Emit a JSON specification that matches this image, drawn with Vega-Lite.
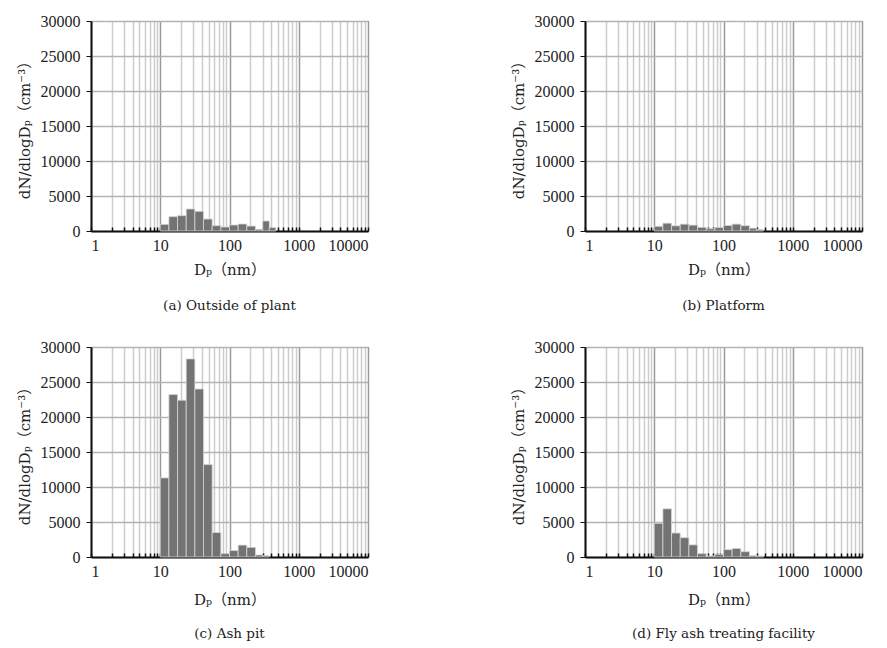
{
  "$schema": "https://vega.github.io/schema/vega-lite/v6.json",
  "padding": {"left": 16, "top": 12, "right": 5, "bottom": 3},
  "background": "white",
  "spacing": 25,
  "datasets": {
    "bins": [
      {"panel": "a", "lo": 10, "hi": 13.34, "value": 950},
      {"panel": "a", "lo": 13.34, "hi": 17.78, "value": 2050},
      {"panel": "a", "lo": 17.78, "hi": 23.71, "value": 2190},
      {"panel": "a", "lo": 23.71, "hi": 31.62, "value": 3140},
      {"panel": "a", "lo": 31.62, "hi": 42.17, "value": 2810},
      {"panel": "a", "lo": 42.17, "hi": 56.23, "value": 1710},
      {"panel": "a", "lo": 56.23, "hi": 74.99, "value": 760},
      {"panel": "a", "lo": 74.99, "hi": 100, "value": 570},
      {"panel": "a", "lo": 100, "hi": 133.4, "value": 860},
      {"panel": "a", "lo": 133.4, "hi": 177.8, "value": 1000},
      {"panel": "a", "lo": 177.8, "hi": 237.1, "value": 710},
      {"panel": "a", "lo": 237.1, "hi": 302, "value": 240},
      {"panel": "a", "lo": 302, "hi": 376, "value": 1430},
      {"panel": "a", "lo": 376, "hi": 468, "value": 480},
      {"panel": "b", "lo": 10, "hi": 13.34, "value": 670},
      {"panel": "b", "lo": 13.34, "hi": 17.78, "value": 1120},
      {"panel": "b", "lo": 17.78, "hi": 23.71, "value": 740},
      {"panel": "b", "lo": 23.71, "hi": 31.62, "value": 980},
      {"panel": "b", "lo": 31.62, "hi": 42.17, "value": 840},
      {"panel": "b", "lo": 42.17, "hi": 56.23, "value": 520},
      {"panel": "b", "lo": 56.23, "hi": 74.99, "value": 330},
      {"panel": "b", "lo": 74.99, "hi": 100, "value": 480},
      {"panel": "b", "lo": 100, "hi": 133.4, "value": 790},
      {"panel": "b", "lo": 133.4, "hi": 177.8, "value": 980},
      {"panel": "b", "lo": 177.8, "hi": 237.1, "value": 760},
      {"panel": "b", "lo": 237.1, "hi": 302, "value": 410},
      {"panel": "b", "lo": 302, "hi": 376, "value": 190},
      {"panel": "c", "lo": 10, "hi": 13.34, "value": 11300},
      {"panel": "c", "lo": 13.34, "hi": 17.78, "value": 23200},
      {"panel": "c", "lo": 17.78, "hi": 23.71, "value": 22400},
      {"panel": "c", "lo": 23.71, "hi": 31.62, "value": 28300},
      {"panel": "c", "lo": 31.62, "hi": 42.17, "value": 24000},
      {"panel": "c", "lo": 42.17, "hi": 56.23, "value": 13200},
      {"panel": "c", "lo": 56.23, "hi": 74.99, "value": 3500},
      {"panel": "c", "lo": 74.99, "hi": 100, "value": 480},
      {"panel": "c", "lo": 100, "hi": 133.4, "value": 920},
      {"panel": "c", "lo": 133.4, "hi": 177.8, "value": 1700},
      {"panel": "c", "lo": 177.8, "hi": 237.1, "value": 1380},
      {"panel": "c", "lo": 237.1, "hi": 302, "value": 290},
      {"panel": "c", "lo": 302, "hi": 376, "value": 190},
      {"panel": "d", "lo": 10, "hi": 13.34, "value": 4810},
      {"panel": "d", "lo": 13.34, "hi": 17.78, "value": 6880},
      {"panel": "d", "lo": 17.78, "hi": 23.71, "value": 3430},
      {"panel": "d", "lo": 23.71, "hi": 31.62, "value": 2760},
      {"panel": "d", "lo": 31.62, "hi": 42.17, "value": 1730},
      {"panel": "d", "lo": 42.17, "hi": 56.23, "value": 480},
      {"panel": "d", "lo": 56.23, "hi": 74.99, "value": 150},
      {"panel": "d", "lo": 74.99, "hi": 100, "value": 380},
      {"panel": "d", "lo": 100, "hi": 133.4, "value": 1050},
      {"panel": "d", "lo": 133.4, "hi": 177.8, "value": 1220},
      {"panel": "d", "lo": 177.8, "hi": 237.1, "value": 760},
      {"panel": "d", "lo": 237.1, "hi": 302, "value": 190},
      {"panel": "d", "lo": 302, "hi": 376, "value": 140}
    ]
  },
  "data": {"name": "bins"},
  "config": {
    "view": {"stroke": "#222222", "strokeWidth": 1},
    "font": "Liberation Serif",
    "axis": {
      "labelFont": "Liberation Serif",
      "labelFontSize": 16,
      "labelColor": "#222222",
      "titleFont": "DejaVu Serif, Noto Sans CJK JP",
      "titleFontSize": 15,
      "titleFontWeight": "normal",
      "titleColor": "#222222",
      "domainColor": "#111111",
      "domainWidth": 2,
      "tickColor": "#111111"
    },
    "title": {"font": "DejaVu Serif", "fontSize": 13.5, "fontWeight": "normal", "color": "#222222"}
  },
  "vconcat": [
    {
      "spacing": 140,
      "hconcat": [
        {
          "width": 277, "height": 210,
          "transform": [{"filter": "datum.panel == 'a'"}],
          "title": {"text": "(a) Outside of plant", "orient": "bottom", "offset": 22},
          "mark": {"type": "rect", "fill": "#737373", "stroke": "#d6d6d6", "strokeWidth": 0.8},
          "encoding": {
            "x": {"field": "lo", "type": "quantitative", "scale": {"type": "log", "domain": [1, 10000]},
              "axis": {"title": "Dₚ（nm）", "values": [1,2,3,4,5,6,7,8,9,10,20,30,40,50,60,70,80,90,100,200,300,400,500,600,700,800,900,1000,2000,3000,4000,5000,6000,7000,8000,9000,10000],
                "format": "d", "labelOverlap": false, "labelExpr": "indexof([1,10,100,1000,10000], datum.value) >= 0 ? datum.label : ''",
                "grid": true, "gridColor": {"condition": {"test": "indexof([1,10,100,1000,10000], datum.value) >= 0", "value": "#9a9a9a"}, "value": "#cccccc"}, "gridWidth": 1.5,
                "tickSize": -4, "tickWidth": 1.5, "labelPadding": 10, "titlePadding": 9}},
            "x2": {"field": "hi"},
            "y": {"field": "value", "type": "quantitative", "scale": {"domain": [0, 30000]},
              "axis": {"title": "dN/dlogDₚ（cm⁻³）", "values": [0,5000,10000,15000,20000,25000,30000], "format": "d", "grid": true, "gridColor": "#b3b3b3", "gridWidth": 1.5, "tickSize": 5, "labelPadding": 6, "titlePadding": 8}},
            "y2": {"datum": 0}
          }
        },
        {
          "width": 277, "height": 210,
          "transform": [{"filter": "datum.panel == 'b'"}],
          "title": {"text": "(b) Platform", "orient": "bottom", "offset": 22},
          "mark": {"type": "rect", "fill": "#737373", "stroke": "#d6d6d6", "strokeWidth": 0.8},
          "encoding": {
            "x": {"field": "lo", "type": "quantitative", "scale": {"type": "log", "domain": [1, 10000]},
              "axis": {"title": "Dₚ（nm）", "values": [1,2,3,4,5,6,7,8,9,10,20,30,40,50,60,70,80,90,100,200,300,400,500,600,700,800,900,1000,2000,3000,4000,5000,6000,7000,8000,9000,10000],
                "format": "d", "labelOverlap": false, "labelExpr": "indexof([1,10,100,1000,10000], datum.value) >= 0 ? datum.label : ''",
                "grid": true, "gridColor": {"condition": {"test": "indexof([1,10,100,1000,10000], datum.value) >= 0", "value": "#9a9a9a"}, "value": "#cccccc"}, "gridWidth": 1.5,
                "tickSize": -4, "tickWidth": 1.5, "labelPadding": 10, "titlePadding": 9}},
            "x2": {"field": "hi"},
            "y": {"field": "value", "type": "quantitative", "scale": {"domain": [0, 30000]},
              "axis": {"title": "dN/dlogDₚ（cm⁻³）", "values": [0,5000,10000,15000,20000,25000,30000], "format": "d", "grid": true, "gridColor": "#b3b3b3", "gridWidth": 1.5, "tickSize": 5, "labelPadding": 6, "titlePadding": 8}},
            "y2": {"datum": 0}
          }
        }
      ]
    },
    {
      "spacing": 140,
      "hconcat": [
        {
          "width": 277, "height": 210,
          "transform": [{"filter": "datum.panel == 'c'"}],
          "title": {"text": "(c) Ash pit", "orient": "bottom", "offset": 20},
          "mark": {"type": "rect", "fill": "#737373", "stroke": "#d6d6d6", "strokeWidth": 0.8},
          "encoding": {
            "x": {"field": "lo", "type": "quantitative", "scale": {"type": "log", "domain": [1, 10000]},
              "axis": {"title": "Dₚ（nm）", "values": [1,2,3,4,5,6,7,8,9,10,20,30,40,50,60,70,80,90,100,200,300,400,500,600,700,800,900,1000,2000,3000,4000,5000,6000,7000,8000,9000,10000],
                "format": "d", "labelOverlap": false, "labelExpr": "indexof([1,10,100,1000,10000], datum.value) >= 0 ? datum.label : ''",
                "grid": true, "gridColor": {"condition": {"test": "indexof([1,10,100,1000,10000], datum.value) >= 0", "value": "#9a9a9a"}, "value": "#cccccc"}, "gridWidth": 1.5,
                "tickSize": -4, "tickWidth": 1.5, "labelPadding": 10, "titlePadding": 13}},
            "x2": {"field": "hi"},
            "y": {"field": "value", "type": "quantitative", "scale": {"domain": [0, 30000]},
              "axis": {"title": "dN/dlogDₚ（cm⁻³）", "values": [0,5000,10000,15000,20000,25000,30000], "format": "d", "grid": true, "gridColor": "#b3b3b3", "gridWidth": 1.5, "tickSize": 5, "labelPadding": 6, "titlePadding": 8}},
            "y2": {"datum": 0}
          }
        },
        {
          "width": 277, "height": 210,
          "transform": [{"filter": "datum.panel == 'd'"}],
          "title": {"text": "(d) Fly ash treating facility", "orient": "bottom", "offset": 20},
          "mark": {"type": "rect", "fill": "#737373", "stroke": "#d6d6d6", "strokeWidth": 0.8},
          "encoding": {
            "x": {"field": "lo", "type": "quantitative", "scale": {"type": "log", "domain": [1, 10000]},
              "axis": {"title": "Dₚ（nm）", "values": [1,2,3,4,5,6,7,8,9,10,20,30,40,50,60,70,80,90,100,200,300,400,500,600,700,800,900,1000,2000,3000,4000,5000,6000,7000,8000,9000,10000],
                "format": "d", "labelOverlap": false, "labelExpr": "indexof([1,10,100,1000,10000], datum.value) >= 0 ? datum.label : ''",
                "grid": true, "gridColor": {"condition": {"test": "indexof([1,10,100,1000,10000], datum.value) >= 0", "value": "#9a9a9a"}, "value": "#cccccc"}, "gridWidth": 1.5,
                "tickSize": -4, "tickWidth": 1.5, "labelPadding": 10, "titlePadding": 13}},
            "x2": {"field": "hi"},
            "y": {"field": "value", "type": "quantitative", "scale": {"domain": [0, 30000]},
              "axis": {"title": "dN/dlogDₚ（cm⁻³）", "values": [0,5000,10000,15000,20000,25000,30000], "format": "d", "grid": true, "gridColor": "#b3b3b3", "gridWidth": 1.5, "tickSize": 5, "labelPadding": 6, "titlePadding": 8}},
            "y2": {"datum": 0}
          }
        }
      ]
    }
  ]
}
